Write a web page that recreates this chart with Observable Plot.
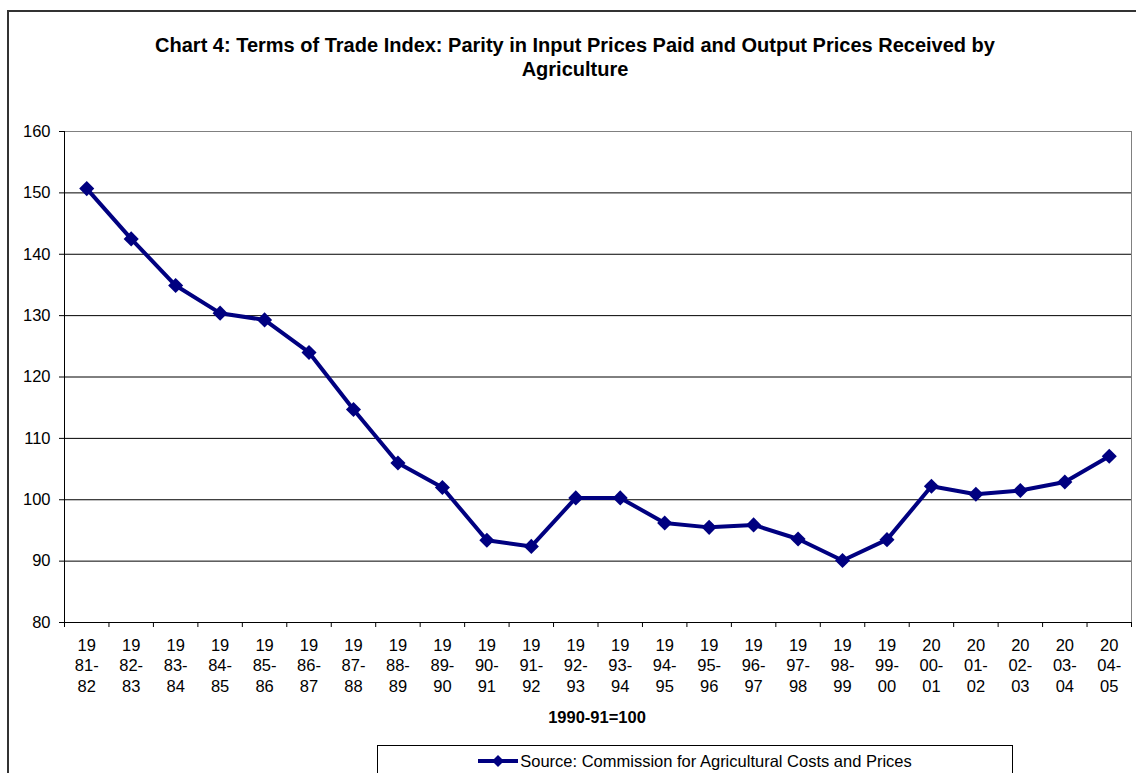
<!DOCTYPE html>
<html>
<head>
<meta charset="utf-8">
<script src="https://cdn.jsdelivr.net/npm/d3@7"></script>
<script src="https://cdn.jsdelivr.net/npm/@observablehq/plot@0.6"></script>
<style>
  body { margin: 0; background: #fff; font-family: Arial, "Liberation Sans", sans-serif; color: #000; }
  #page { position: relative; width: 1136px; height: 773px; overflow: hidden; background: #fff; }
  #outer { position: absolute; left: 7px; top: 10px; width: 1200px; height: 900px; border: 2px solid #333; box-sizing: border-box; }
  #title { position: absolute; left: 8px; width: 1134px; top: 33px; text-align: center; font-weight: bold; font-size: 20px; line-height: 24px; }
  #chart { position: absolute; left: 0; top: 100px; }
  #xlabel { position: absolute; left: 497px; width: 200px; top: 708px; text-align: center; font-weight: bold; font-size: 16.5px; line-height: 18px; }
  #legend { position: absolute; left: 377px; top: 745px; width: 636px; height: 60px; border: 1px solid #000; box-sizing: border-box; }
  #legend .item { position: absolute; left: 0; right: 0; top: 5px; display: flex; justify-content: center; align-items: center; font-size: 16.5px; line-height: 20px; white-space: nowrap; }
  #legend svg { display: block; margin-right: 2px; }
</style>
</head>
<body>
<div id="page">
  <div id="outer"></div>
  <div id="title">Chart 4: Terms of Trade Index: Parity in Input Prices Paid and Output Prices Received by<br>Agriculture</div>
  <div id="chart"></div>
  <div id="xlabel">1990-91=100</div>
  <div id="legend">
    <div class="item">
      <svg width="40" height="14" viewBox="0 0 40 14">
        <line x1="0" y1="7" x2="40" y2="7" stroke="#000080" stroke-width="4"></line>
        <path d="M20,1 L26,7 L20,13 L14,7 Z" fill="#000080"></path>
      </svg>
      <span>Source: Commission for Agricultural Costs and Prices</span>
    </div>
  </div>
</div>
<script>
// Crop years (1990-91 = 100)
const seasons = [
  "1981-82", "1982-83", "1983-84", "1984-85", "1985-86", "1986-87",
  "1987-88", "1988-89", "1989-90", "1990-91", "1991-92", "1992-93",
  "1993-94", "1994-95", "1995-96", "1996-97", "1997-98", "1998-99",
  "1999-00", "2000-01", "2001-02", "2002-03", "2003-04", "2004-05"
];

// Terms of trade index: parity between prices received and prices paid
const parity = [
  150.7, 142.5, 134.9, 130.4, 129.3, 124.0,
  114.7, 106.0, 102.0, 93.4, 92.4, 100.3,
  100.3, 96.2, 95.5, 95.9, 93.6, 90.1,
  93.5, 102.2, 100.9, 101.5, 102.9, 107.1
];

// Value axis ticks
const yTicks = [80, 90, 100, 110, 120, 130, 140, 150, 160];

const rows = seasons.map((season, i) => ({ slot: i + 0.5, season, value: parity[i] }));

// "1981-82" -> "19\n81-\n82"
const seasonLabel = (s) => `${s.slice(0, 2)}\n${s.slice(2, 5)}\n${s.slice(5)}`;

const navy = "#000080";

const chart = Plot.plot({
  width: 1136,
  height: 620,
  marginLeft: 64,
  marginRight: 5,
  marginTop: 31,
  marginBottom: 98,
  style: { fontFamily: "Arial, 'Liberation Sans', sans-serif", fontSize: "16.5px", color: "#000", background: "transparent" },
  x: { domain: [0, seasons.length], axis: null },
  y: { domain: [80, 160], axis: null },
  marks: [
    Plot.gridY(yTicks.slice(1, -1), { stroke: "#000", strokeOpacity: 1 }),
    Plot.ruleY([yTicks[yTicks.length - 1]], { stroke: "#808080" }),
    Plot.ruleX([seasons.length], { stroke: "#808080" }),
    Plot.ruleX([0], { stroke: "#000" }),
    Plot.ruleY([yTicks[0]], { stroke: "#000" }),
    Plot.axisY(yTicks, { tickSize: 5, tickPadding: 9, fontSize: 16.5, stroke: "#000", label: null }),
    Plot.axisX(d3.range(seasons.length + 1), { tickSize: 5, tickFormat: () => "", stroke: "#000", label: null }),
    Plot.axisX(rows.map((d) => d.slot), {
      tickSize: 0,
      tickPadding: 14,
      fontSize: 16.5,
      lineHeight: 1.24,
      label: null,
      tickFormat: (v) => seasonLabel(seasons[Math.floor(v)])
    }),
    Plot.line(rows, { x: "slot", y: "value", stroke: navy, strokeWidth: 4, strokeLinejoin: "miter" }),
    Plot.dot(rows, { x: "slot", y: "value", symbol: "diamond2", r: 6.8, fill: navy, stroke: "none" })
  ]
});

document.getElementById("chart").appendChild(chart);
</script>
</body>
</html>
